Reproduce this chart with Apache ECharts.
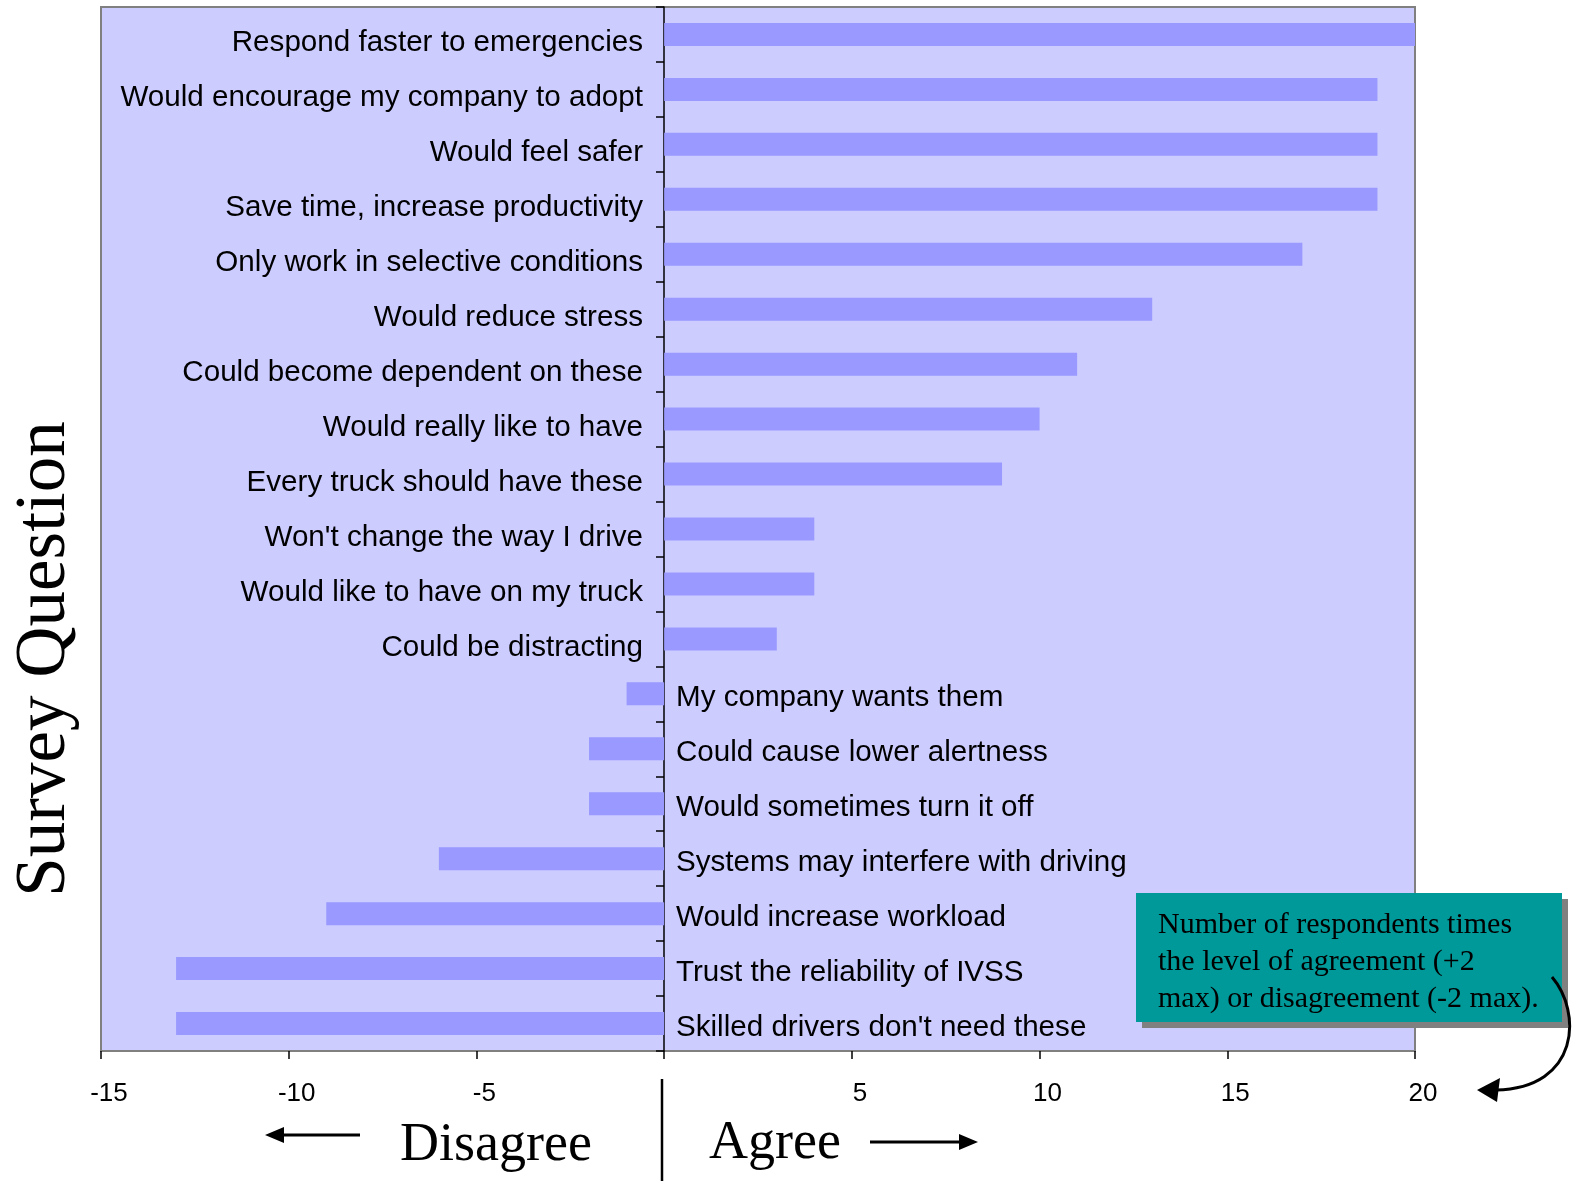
<!DOCTYPE html>
<html>
<head>
<meta charset="utf-8">
<script src="https://cdn.jsdelivr.net/npm/echarts@6/dist/echarts.min.js"></script>
<style>
  html, body { margin: 0; padding: 0; background: #fff; }
  #main { width: 1572px; height: 1181px; }
</style>
</head>
<body>
<div id="main"></div>
<script>
const questions = [
  'Respond faster to emergencies',
  'Would encourage my company to adopt',
  'Would feel safer',
  'Save time, increase productivity',
  'Only work in selective conditions',
  'Would reduce stress',
  'Could become dependent on these',
  'Would really like to have',
  'Every truck should have these',
  "Won't change the way I drive",
  'Would like to have on my truck',
  'Could be distracting',
  'My company wants them',
  'Could cause lower alertness',
  'Would sometimes turn it off',
  'Systems may interfere with driving',
  'Would increase workload',
  'Trust the reliability of IVSS',
  "Skilled drivers don't need these"
]
const scores = [20, 19, 19, 19, 17, 13, 11, 10, 9, 4, 4, 3, -1, -2, -2, -6, -9, -13, -13]
const xTicks = { min: -15, max: 20, interval: 5 }
const noteLines = [
  'Number of respondents times',
  'the level of agreement (+2',
  'max) or disagreement (-2 max).'
]

const sans = 'Liberation Sans, Arial, sans-serif'
const serif = 'Liberation Serif, Times New Roman, serif'

const chart = echarts.init(document.getElementById('main'))

// helper grids share the plot's top/bottom and meet at the zero line (x = 664)
chart.setOption({
  animation: false,
  backgroundColor: '#fff',
  grid: [
    {
      left: 101, right: 157, top: 7, bottom: 130,
      outerBoundsMode: 'none',
      show: true,
      backgroundColor: '#CCCCFF',
      borderColor: '#808080',
      borderWidth: 2
    },
    { left: 664, right: 157, top: 7, bottom: 130, outerBoundsMode: 'none' },
    { left: 101, right: 908, top: 7, bottom: 130, outerBoundsMode: 'none' }
  ],
  xAxis: [
    {
      type: 'value',
      min: xTicks.min,
      max: xTicks.max,
      interval: xTicks.interval,
      splitLine: { show: false },
      axisLine: { lineStyle: { color: '#000', width: 1.5 } },
      axisTick: { show: true, length: 8, lineStyle: { color: '#000', width: 1.5 } },
      axisLabel: {
        color: '#000', fontFamily: sans, fontSize: 26, margin: 30,
        padding: [0, 0, 0, 16],
        formatter: (v) => (v === 0 ? '' : String(v))
      }
    },
    { type: 'value', gridIndex: 1, min: 0, max: 1, show: false },
    { type: 'value', gridIndex: 2, min: 0, max: 1, show: false }
  ],
  yAxis: [
    {
      type: 'category',
      data: questions,
      inverse: true,
      axisLine: { show: false },
      axisTick: { show: false },
      axisLabel: { show: false }
    },
    {
      // zero line, its ticks and the labels of the positive rows
      type: 'category',
      gridIndex: 1,
      data: questions,
      inverse: true,
      position: 'left',
      axisLine: { lineStyle: { color: '#000', width: 1.5 } },
      axisTick: { show: true, length: 8, lineStyle: { color: '#000', width: 1.5 } },
      axisLabel: {
        color: '#000', fontFamily: sans, fontSize: 29.6, margin: 21,
        verticalAlign: 'top', lineHeight: 17,
        formatter: (v, i) => (scores[i] >= 0 ? v : '')
      }
    },
    {
      // labels of the negative rows, right of the zero line
      type: 'category',
      gridIndex: 2,
      data: questions,
      inverse: true,
      position: 'right',
      axisLine: { show: false },
      axisTick: { show: false },
      axisLabel: {
        color: '#000', fontFamily: sans, fontSize: 29.6, margin: 12,
        verticalAlign: 'top', lineHeight: 8,
        formatter: (v, i) => (scores[i] < 0 ? v : '')
      }
    }
  ],
  series: [
    {
      type: 'bar',
      xAxisIndex: 0,
      yAxisIndex: 0,
      data: scores,
      barWidth: 23,
      itemStyle: { color: '#9999FF' }
    }
  ],
  graphic: [
    {
      type: 'text', x: 45, y: 659, rotation: Math.PI / 2,
      style: { text: 'Survey Question', font: '71px ' + serif, fill: '#000', align: 'center', verticalAlign: 'middle' }
    },
    {
      type: 'text', x: 400, y: 1146,
      style: { text: 'Disagree', font: '54px ' + serif, fill: '#000', align: 'left', verticalAlign: 'middle' }
    },
    {
      type: 'text', x: 709, y: 1144,
      style: { text: 'Agree', font: '54px ' + serif, fill: '#000', align: 'left', verticalAlign: 'middle' }
    },
    // arrows under the axis
    { type: 'line', shape: { x1: 360, y1: 1135, x2: 280, y2: 1135 }, style: { stroke: '#000', lineWidth: 3 } },
    { type: 'polygon', shape: { points: [[265, 1135], [284, 1127], [284, 1143]] }, style: { fill: '#000' } },
    { type: 'line', shape: { x1: 870, y1: 1142, x2: 962, y2: 1142 }, style: { stroke: '#000', lineWidth: 3 } },
    { type: 'polygon', shape: { points: [[978, 1142], [959, 1134], [959, 1150]] }, style: { fill: '#000' } },
    { type: 'line', shape: { x1: 662, y1: 1079, x2: 662, y2: 1181 }, style: { stroke: '#000', lineWidth: 2.5 } },
    // note box
    { type: 'rect', shape: { x: 1142, y: 899, width: 426, height: 129 }, style: { fill: '#808080' } },
    { type: 'rect', shape: { x: 1136, y: 893, width: 426, height: 129 }, style: { fill: '#009999' } },
    {
      type: 'text', x: 1158, y: 907,
      style: { text: noteLines.join('\n'), font: '30px ' + serif, lineHeight: 37, fill: '#000', align: 'left', verticalAlign: 'top' }
    },
    {
      type: 'bezierCurve',
      shape: { x1: 1552, y1: 977, cpx1: 1582, cpy1: 1012, cpx2: 1580, cpy2: 1088, x2: 1496, y2: 1090 },
      style: { stroke: '#000', lineWidth: 3, fill: null }
    },
    { type: 'polygon', shape: { points: [[1477, 1090], [1500, 1078], [1497, 1102]] }, style: { fill: '#000' } }
  ]
})
</script>
</body>
</html>
